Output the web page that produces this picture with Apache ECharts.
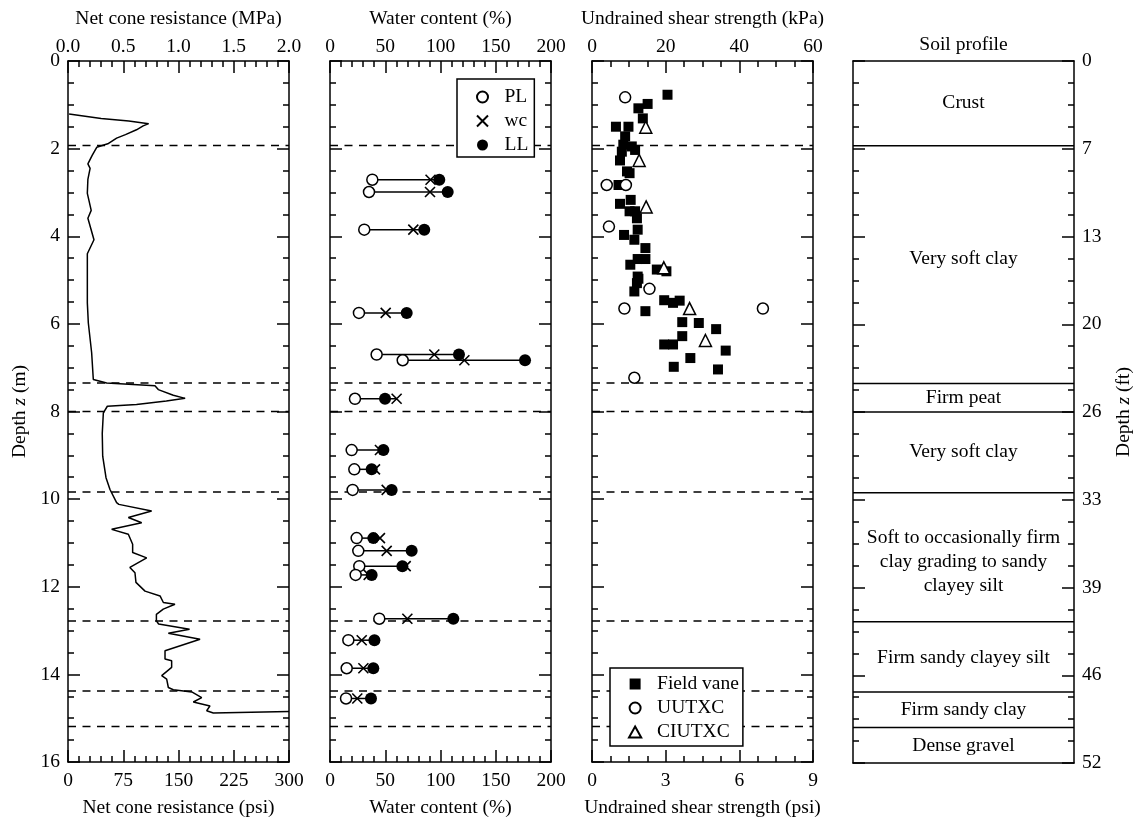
<!DOCTYPE html>
<html>
<head>
<meta charset="utf-8">
<script src="https://cdn.jsdelivr.net/npm/echarts@6/dist/echarts.min.js"></script>
<style>
  html, body { margin: 0; padding: 0; background: #fff; }
  #chart { width: 1137px; height: 823px; }
</style>
</head>
<body>
<div id="chart"></div>
<script>
// ---- Net cone resistance profile (MPa vs depth m) ----
const cptQ = [0.01, 0.3, 0.55, 0.73, 0.68, 0.62, 0.52, 0.44, 0.36, 0.26, 0.22, 0.18, 0.2, 0.18, 0.175, 0.21, 0.18, 0.235, 0.175,
  0.175, 0.184, 0.214, 0.229, 0.35, 0.787, 0.817, 0.953, 1.06, 0.89, 0.62, 0.356, 0.32, 0.31, 0.314, 0.344, 0.38, 0.44, 0.46,
  0.757, 0.546, 0.667, 0.395, 0.546, 0.585, 0.585, 0.712, 0.56, 0.606, 0.615, 0.697, 0.833, 0.863, 0.968, 0.862, 0.8, 0.8, 0.82,
  1.10, 0.908, 1.195, 0.878, 0.893, 0.878, 0.938, 0.938, 0.848, 0.893, 0.908, 0.953, 1.12, 1.21, 1.134, 1.285, 1.255, 1.315, 2.0];
const cptDepth = [1.21, 1.31, 1.37, 1.43, 1.48, 1.57, 1.68, 1.76, 1.89, 1.97, 2.15, 2.35, 2.45, 2.7, 3.02, 3.41, 3.59, 4.08, 4.4,
  5.52, 5.98, 6.66, 7.27, 7.35, 7.41, 7.5, 7.63, 7.7, 7.76, 7.84, 7.88, 8.03, 8.5, 9.02, 9.51, 9.78, 10.08, 10.12,
  10.27, 10.42, 10.54, 10.69, 10.8, 11.03, 11.22, 11.34, 11.56, 11.68, 11.9, 12.1, 12.21, 12.36, 12.4, 12.51, 12.63, 12.78, 12.85,
  12.97, 13.06, 13.2, 13.46, 13.5, 13.65, 13.69, 13.84, 14.03, 14.11, 14.3, 14.35, 14.4, 14.53, 14.63, 14.72, 14.83, 14.88, 14.85];

// ---- Atterberg limits and natural water content (%) ----
const wcDepth       = [2.71, 2.99, 3.85, 5.75, 6.70, 6.83, 7.71, 8.88, 9.32, 9.79, 10.89, 11.18, 11.53, 11.73, 12.73, 13.22, 13.86, 14.55];
const plasticLimit  = [38.3, 35.3, 31.0, 26.2, 42.2, 65.8, 22.6, 19.6, 22.0, 20.5, 24.1, 25.6, 26.5, 23.2, 44.6, 16.6, 15.1, 14.5];
const waterContent  = [91.0, 90.5, 75.4, 50.4, 94.4, 121.6, 60.3, 45.2, 40.7, 51.3, 45.2, 51.3, 68.5, 35.0, 70.0, 28.7, 30.2, 24.7];
const liquidLimit   = [98.9, 106.5, 85.3, 69.4, 116.7, 176.5, 49.8, 48.3, 37.7, 55.8, 39.2, 73.9, 65.5, 37.7, 111.6, 40.2, 39.2, 37.1];

// ---- Undrained shear strength (kPa) ----
const vaneSu    = [20.5, 15.1, 12.6, 13.8, 6.5, 9.9, 9.0, 8.5, 10.8, 11.7, 8.1, 7.6, 9.5, 10.2, 7.2, 10.5, 7.6, 10.2, 11.7, 12.2,
  8.7, 12.4, 11.5, 14.5, 12.4, 14.5, 10.4, 17.6, 20.2, 12.4, 12.6, 12.2, 11.5, 19.6, 22.0, 23.8, 14.5, 24.5, 29.0, 33.7,
  24.5, 19.6, 22.0, 36.3, 26.7, 22.2, 34.2];
const vaneDepth = [0.77, 0.98, 1.08, 1.31, 1.50, 1.50, 1.72, 1.91, 1.95, 2.03, 2.07, 2.27, 2.52, 2.56, 2.83, 3.17, 3.26, 3.43, 3.43, 3.59,
  3.97, 3.85, 4.08, 4.27, 4.52, 4.52, 4.65, 4.76, 4.80, 4.92, 4.97, 5.07, 5.26, 5.46, 5.52, 5.47, 5.71, 5.96, 5.98, 6.12,
  6.28, 6.47, 6.47, 6.61, 6.78, 6.98, 7.04];
const uuSu      = [9.0, 4.0, 9.2, 4.6, 15.6, 8.8, 46.4, 11.5];
const uuDepth   = [0.83, 2.83, 2.83, 3.78, 5.20, 5.65, 5.65, 7.23];
const ciuSu     = [14.6, 12.8, 14.7, 19.5, 26.5, 30.8];
const ciuDepth  = [1.51, 2.27, 3.33, 4.72, 5.65, 6.38];

// ---- Soil profile ----
const layerBounds = [0, 1.93, 7.35, 8.0, 9.84, 12.78, 14.38, 15.19, 16];
const layerNames = ['Crust', 'Very soft clay', 'Firm peat', 'Very soft clay',
  'Soft to occasionally firm\nclay grading to sandy\nclayey silt', 'Firm sandy clayey silt', 'Firm sandy clay', 'Dense gravel'];
const layerLabelDepth = [0.96, 4.5, 7.67, 8.92, 11.42, 13.6, 14.8, 15.6];

// ---- Axis ranges and tick labels ----
const depthMax = 16, depthStep = 2;
const mToFt = 3.28084;

const FONT = 'Liberation Serif';
const FS = 19.5;
const BLACK = '#000';
const PANEL_LEFT = [68, 330, 592, 853];
const PANEL_W = 221, PANEL_TOP = 61, PANEL_H = 702;

// marker shapes
const SYM_X = 'path://M0,0L10,10M10,0L0,10';
const SYM_SQUARE = 'path://M0,0L10,0L10,10L0,10Z';
const SYM_TRIANGLE = 'path://M5,0L10,9L0,9Z';

const lineSt = { color: BLACK, width: 1.5 };
const labelSt = { color: BLACK, fontFamily: FONT, fontSize: FS };

function xAxis(grid, position, min, max, interval, minorSplit, name, fmt, opts) {
  opts = opts || {};
  const top = position === 'top';
  return {
    type: 'value', gridIndex: grid, position: position, min: min, max: max, interval: interval,
    name: name, nameLocation: 'middle', nameGap: opts.nameGap != null ? opts.nameGap : (top ? 32 : 36),
    nameTextStyle: { color: BLACK, fontFamily: FONT, fontSize: FS },
    axisLine: { show: true, onZero: false, lineStyle: lineSt },
    axisTick: { show: !opts.noTicks, inside: true, length: 12, lineStyle: lineSt },
    minorTick: { show: !opts.noTicks, splitNumber: minorSplit, length: 6, lineStyle: lineSt },
    axisLabel: Object.assign({ show: !opts.noLabels, margin: top ? 4 : 9, formatter: fmt }, labelSt),
    splitLine: { show: false }, minorSplitLine: { show: false }
  };
}

function yAxis(grid, position, showLabels, name, fmt) {
  return {
    type: 'value', gridIndex: grid, position: position, min: 0, max: depthMax, interval: depthStep, inverse: true,
    name: name || '', nameLocation: 'middle', nameGap: position === 'left' ? 38 : 40, nameRotate: 90,
    nameTextStyle: {
      color: BLACK, fontFamily: FONT, fontSize: FS,
      rich: {
        n: { color: BLACK, fontFamily: FONT, fontSize: FS },
        i: { color: BLACK, fontFamily: FONT, fontSize: FS, fontStyle: 'italic' }
      }
    },
    axisLine: { show: true, onZero: false, lineStyle: lineSt },
    axisTick: { show: true, inside: true, length: 12, lineStyle: lineSt },
    minorTick: { show: true, splitNumber: 4, length: 6, lineStyle: lineSt },
    axisLabel: Object.assign({ show: showLabels, margin: 8, formatter: fmt }, labelSt),
    splitLine: { show: false }, minorSplitLine: { show: false }
  };
}

const grids = PANEL_LEFT.map(l => ({ left: l, top: PANEL_TOP, width: PANEL_W, height: PANEL_H }));

const xAxes = [
  xAxis(0, 'top', 0, 2, 0.5, 5, 'Net cone resistance (MPa)', v => v.toFixed(1)),
  xAxis(0, 'bottom', 0, 300, 75, 5, 'Net cone resistance (psi)', v => String(v)),
  xAxis(1, 'top', 0, 200, 50, 5, 'Water content (%)', v => String(v)),
  xAxis(1, 'bottom', 0, 200, 50, 5, 'Water content (%)', v => String(v)),
  xAxis(2, 'top', 0, 60, 20, 4, 'Undrained shear strength (kPa)', v => String(v)),
  xAxis(2, 'bottom', 0, 9, 3, 4, 'Undrained shear strength (psi)', v => String(v)),
  xAxis(3, 'top', 0, 1, 1, 1, 'Soil profile', null, { noTicks: true, noLabels: true, nameGap: 6 }),
  xAxis(3, 'bottom', 0, 1, 1, 1, '', null, { noTicks: true, noLabels: true })
];

const yAxes = [
  yAxis(0, 'left', true, '{n|Depth }{i|z}{n| (m)}', v => String(v)),
  yAxis(0, 'right', false),
  yAxis(1, 'left', false), yAxis(1, 'right', false),
  yAxis(2, 'left', false), yAxis(2, 'right', false),
  yAxis(3, 'left', false),
  yAxis(3, 'right', true, '{n|Depth }{i|z}{n| (ft)}', v => String(Math.round(v * mToFt)))
];

// horizontal boundary lines across a panel
function boundarySeries(panel, dashed) {
  return {
    type: 'custom', xAxisIndex: panel * 2, yAxisIndex: panel * 2, silent: true, z: 1,
    data: layerBounds.slice(1, -1).map(d => [0, d]),
    encode: { x: 0, y: 1 },
    renderItem: function (params, api) {
      const cs = params.coordSys;
      const y = api.coord([0, api.value(1)])[1];
      return {
        type: 'line',
        shape: { x1: cs.x, y1: y, x2: cs.x + cs.width, y2: y },
        style: { stroke: BLACK, lineWidth: 1.5, lineDash: dashed ? [8, 6.5] : null }
      };
    }
  };
}

const openStyle = { color: '#fff', borderColor: BLACK, borderWidth: 1.5, opacity: 1 };
const solidStyle = { color: BLACK, opacity: 1 };

const series = [
  boundarySeries(0, true),
  boundarySeries(1, true),
  boundarySeries(2, true),
  boundarySeries(3, false),
  {
    type: 'line', xAxisIndex: 0, yAxisIndex: 0, showSymbol: false, symbol: 'none', silent: true,
    lineStyle: { color: BLACK, width: 1.5 },
    data: cptQ.map((q, i) => [q, cptDepth[i]])
  },
  {
    type: 'custom', xAxisIndex: 2, yAxisIndex: 2, silent: true, z: 2,
    data: wcDepth.map((d, i) => [plasticLimit[i], Math.max(waterContent[i], liquidLimit[i]), d]),
    encode: { x: [0, 1], y: 2 },
    renderItem: function (params, api) {
      const p1 = api.coord([api.value(0), api.value(2)]);
      const p2 = api.coord([api.value(1), api.value(2)]);
      return { type: 'line', shape: { x1: p1[0], y1: p1[1], x2: p2[0], y2: p2[1] },
        style: { stroke: BLACK, lineWidth: 1.5 } };
    }
  },
  {
    name: 'PL', type: 'scatter', xAxisIndex: 2, yAxisIndex: 2, symbol: 'circle', symbolSize: 11,
    itemStyle: openStyle, data: plasticLimit.map((v, i) => [v, wcDepth[i]])
  },
  {
    name: 'wc', type: 'scatter', xAxisIndex: 2, yAxisIndex: 2, symbol: SYM_X, symbolSize: 10,
    itemStyle: { color: 'rgba(0,0,0,0)', borderColor: BLACK, borderWidth: 1.6, opacity: 1 },
    data: waterContent.map((v, i) => [v, wcDepth[i]])
  },
  {
    name: 'LL', type: 'scatter', xAxisIndex: 2, yAxisIndex: 2, symbol: 'circle', symbolSize: 12,
    itemStyle: solidStyle, data: liquidLimit.map((v, i) => [v, wcDepth[i]])
  },
  {
    name: 'Field vane', type: 'scatter', xAxisIndex: 4, yAxisIndex: 4, symbol: SYM_SQUARE, symbolSize: 10,
    itemStyle: solidStyle, data: vaneSu.map((v, i) => [v, vaneDepth[i]])
  },
  {
    name: 'UUTXC', type: 'scatter', xAxisIndex: 4, yAxisIndex: 4, symbol: 'circle', symbolSize: 11,
    itemStyle: openStyle, data: uuSu.map((v, i) => [v, uuDepth[i]])
  },
  {
    name: 'CIUTXC', type: 'scatter', xAxisIndex: 4, yAxisIndex: 4, symbol: SYM_TRIANGLE, symbolSize: 12,
    itemStyle: openStyle, data: ciuSu.map((v, i) => [v, ciuDepth[i]])
  },
  {
    type: 'scatter', xAxisIndex: 6, yAxisIndex: 6, symbolSize: 0, silent: true,
    itemStyle: { opacity: 1 },
    data: layerNames.map((n, i) => ({ name: n, value: [0.5, layerLabelDepth[i]] })),
    label: {
      show: true, position: 'inside', formatter: '{b}', color: BLACK, fontFamily: FONT, fontSize: FS,
      lineHeight: 24, align: 'center', verticalAlign: 'middle', opacity: 1
    }
  }
];

const legendBase = {
  orient: 'vertical', selectedMode: false, backgroundColor: '#fff',
  borderColor: BLACK, borderWidth: 1.5, borderRadius: 0,
  itemWidth: 34, itemHeight: 11, itemGap: 4, symbolKeepAspect: true,
  textStyle: { color: BLACK, fontFamily: FONT, fontSize: FS }, z: 10
};

const option = {
  animation: false,
  backgroundColor: '#fff',
  grid: grids,
  xAxis: xAxes,
  yAxis: yAxes,
  legend: [
    Object.assign({}, legendBase, { data: ['PL', 'wc', 'LL'], left: 457, top: 79, padding: [8, 6, 2, 19] }),
    Object.assign({}, legendBase, { data: ['Field vane', 'UUTXC', 'CIUTXC'], left: 610, top: 668, padding: [6, 4, 4, 18] })
  ],
  series: series
};

const chart = echarts.init(document.getElementById('chart'), null, { renderer: 'canvas' });
chart.setOption(option);
</script>
</body>
</html>
